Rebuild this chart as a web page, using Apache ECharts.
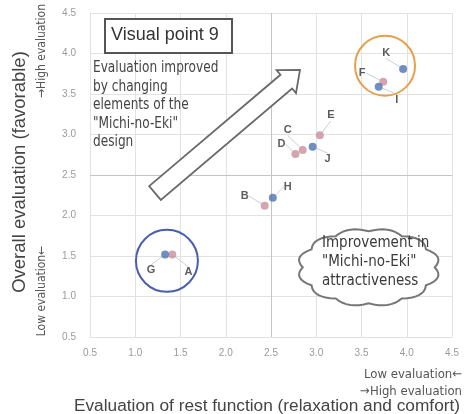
<!DOCTYPE html>
<html>
<head>
<meta charset="utf-8">
<script src="https://cdn.jsdelivr.net/npm/echarts@6/dist/echarts.min.js"></script>
<style>
  html, body { margin: 0; padding: 0; background: #fff; }
  #chart { width: 468px; height: 414px; }
</style>
</head>
<body>
<div id="chart"></div>
<script>
// data
const pinkNames = ['A', 'B', 'C', 'D', 'E', 'F'];
const pinkX = [1.41, 2.43, 2.85, 2.77, 3.04, 3.74];
const pinkY = [1.52, 2.12, 2.81, 2.76, 2.99, 3.65];
const blueNames = ['G', 'H', 'I', 'J', 'K'];
const blueX = [1.33, 2.52, 3.69, 2.96, 3.96];
const blueY = [1.52, 2.22, 3.59, 2.85, 3.81];

// label offsets (px) for the leader lines
const pinkOffsets = [[16, 18], [-20, -10], [-15, -20], [-14, -10], [11, -20], [-21, -9]];
const blueOffsets = [[-14, 16], [15, -11], [18, 13], [15, 12], [-17, -16]];

const narrow = '"Liberation Sans Narrow", "DejaVu Sans Condensed", sans-serif';
const regular = '"Liberation Sans", sans-serif';

const chart = echarts.init(document.getElementById('chart'));

function pointSeries(names, xs, ys, offsets, color) {
    return {
        type: 'scatter',
        symbolSize: 8,
        itemStyle: { color: color },
        data: names.map((n, i) => ({ name: n, value: [xs[i], ys[i]] })),
        label: {
            show: true,
            position: 'inside',
            formatter: '{b}',
            color: '#333',
            fontWeight: 'bold',
            fontSize: 11,
            fontFamily: regular
        },
        labelLayout: params => ({
            dx: offsets[params.dataIndex][0],
            dy: offsets[params.dataIndex][1]
        }),
        labelLine: {
            show: true,
            lineStyle: { color: '#c4d0dc', width: 1 }
        },
        z: 5
    };
}

const option = {
    animation: false,
    grid: { left: 90, right: 16, top: 13, bottom: 77 },
    xAxis: {
        type: 'value',
        min: 0.5,
        max: 4.5,
        interval: 0.5,
        axisLine: { show: true, lineStyle: { color: '#e2e2e2' } },
        axisTick: { show: false },
        splitLine: { show: true, lineStyle: { color: '#e2e2e2' } },
        axisLabel: {
            color: '#9a9a9a', fontSize: 10, margin: 11,
            formatter: v => v.toFixed(1)
        }
    },
    yAxis: {
        type: 'value',
        min: 0.5,
        max: 4.5,
        interval: 0.5,
        axisLine: { show: true, lineStyle: { color: '#e2e2e2' } },
        axisTick: { show: false },
        splitLine: { show: true, lineStyle: { color: '#e2e2e2' } },
        axisLabel: {
            color: '#9a9a9a', fontSize: 10, margin: 14,
            formatter: v => v.toFixed(1)
        }
    },
    series: [
        Object.assign(pointSeries(pinkNames, pinkX, pinkY, pinkOffsets, '#c98f9c'), {
            markLine: {
                silent: true,
                symbol: 'none',
                label: { show: false },
                lineStyle: { color: '#c4c4c4', type: 'solid', width: 1 },
                data: [{ xAxis: 2.5 }, { yAxis: 2.5 }]
            }
        }),
        pointSeries(blueNames, blueX, blueY, blueOffsets, '#4d72b4')
    ]
};
chart.setOption(option);

// decorations
function toPx(p) { return chart.convertToPixel({ gridIndex: 0 }, p); }

// cloud outline: bumps on an ellipse, sampled as a polygon
function cloudPoints(cx, cy, rx, ry, n, bump) {
    const base = [];
    for (let i = 0; i < n; i++) {
        const a = 2 * Math.PI * i / n;
        base.push([cx + rx * Math.cos(a), cy + ry * Math.sin(a)]);
    }
    const out = [];
    for (let i = 0; i < n; i++) {
        const p0 = base[i];
        const p1 = base[(i + 1) % n];
        const m = 2 * Math.PI * (i + 0.5) / n;
        const c = [cx + rx * bump * Math.cos(m), cy + ry * bump * Math.sin(m)];
        for (let k = 0; k < 8; k++) {
            const t = k / 8;
            out.push([
                (1 - t) * (1 - t) * p0[0] + 2 * (1 - t) * t * c[0] + t * t * p1[0],
                (1 - t) * (1 - t) * p0[1] + 2 * (1 - t) * t * c[1] + t * t * p1[1]
            ]);
        }
    }
    return out;
}

function arrowPoints(tail, tip, half, headLen, headHalf) {
    const dx = tip[0] - tail[0], dy = tip[1] - tail[1];
    const len = Math.sqrt(dx * dx + dy * dy);
    const u = [dx / len, dy / len];
    const nrm = [-u[1], u[0]];
    const h = [tip[0] - u[0] * headLen, tip[1] - u[1] * headLen];
    const p = (b, k) => [b[0] + nrm[0] * k, b[1] + nrm[1] * k];
    return [p(tail, -half), p(h, -half), p(h, -headHalf), tip, p(h, headHalf), p(h, half), p(tail, half)];
}

const orangeC = toPx([3.76, 3.85]);
const blueC = toPx([1.35, 1.44]);
const cloudC = toPx([3.58, 1.36]);

chart.setOption({
    graphic: [
        {
            type: 'circle', z: 10,
            shape: { cx: orangeC[0], cy: orangeC[1], r: 30 },
            style: { fill: 'none', stroke: '#e6a04c', lineWidth: 2 }
        },
        {
            type: 'circle', z: 10,
            shape: { cx: blueC[0], cy: blueC[1], r: 31 },
            style: { fill: 'none', stroke: '#4a5db0', lineWidth: 2 }
        },
        {
            type: 'polygon', z: 10,
            shape: { points: arrowPoints([155, 193], [300, 70], 9, 18, 15) },
            style: { fill: '#fff', stroke: '#6a6a6a', lineWidth: 1.8 }
        },
        {
            type: 'polygon', z: 10,
            shape: { points: cloudPoints(cloudC[0], cloudC[1], 66, 36, 12, 1.2) },
            style: { fill: '#fff', stroke: '#777', lineWidth: 2 }
        },
        {
            type: 'text', z: 11, x: 322, y: 234,
            style: {
                text: 'Improvement in\n"Michi-no-Eki"\nattractiveness',
                font: '15px ' + narrow, fill: '#3a3a3a', lineHeight: 19
            }
        },
        {
            type: 'rect', z: 10,
            shape: { x: 105, y: 19, width: 127, height: 34 },
            style: { fill: '#fff', stroke: '#555', lineWidth: 2 }
        },
        {
            type: 'text', z: 11, x: 111, y: 26,
            style: { text: 'Visual point 9', font: '18px ' + regular, fill: '#333' }
        },
        {
            type: 'text', z: 11, x: 93, y: 59, scaleX: 0.9,
            style: {
                text: 'Evaluation improved\nby changing\nelements of the\n"Michi-no-Eki"\ndesign',
                font: '15px ' + narrow, fill: '#444', lineHeight: 18.5
            }
        },
        {
            type: 'text', z: 11, x: 462, y: 375,
            style: {
                text: 'Low evaluation\u2190', font: '13px ' + narrow, fill: '#555',
                align: 'right', verticalAlign: 'middle'
            }
        },
        {
            type: 'text', z: 11, x: 462, y: 392,
            style: {
                text: '\u2192High evaluation', font: '13px ' + narrow, fill: '#555',
                align: 'right', verticalAlign: 'middle'
            }
        },
        {
            type: 'text', z: 11, x: 267, y: 406,
            style: {
                text: 'Evaluation of rest function (relaxation and comfort)',
                font: '17.3px ' + regular, fill: '#444', align: 'center', verticalAlign: 'middle'
            }
        },
        {
            type: 'text', z: 11, x: 20, y: 172, rotation: Math.PI / 2,
            style: {
                text: 'Overall evaluation (favorable)',
                font: '18.5px ' + regular, fill: '#444', align: 'center', verticalAlign: 'middle'
            }
        },
        {
            type: 'text', z: 11, x: 42, y: 51, rotation: Math.PI / 2,
            style: {
                text: '\u2192High evaluation',
                font: '12px ' + narrow, fill: '#555', align: 'center', verticalAlign: 'middle'
            }
        },
        {
            type: 'text', z: 11, x: 42, y: 291, rotation: Math.PI / 2,
            style: {
                text: 'Low evaluation\u2190',
                font: '12px ' + narrow, fill: '#555', align: 'center', verticalAlign: 'middle'
            }
        }
    ]
});
</script>
</body>
</html>
